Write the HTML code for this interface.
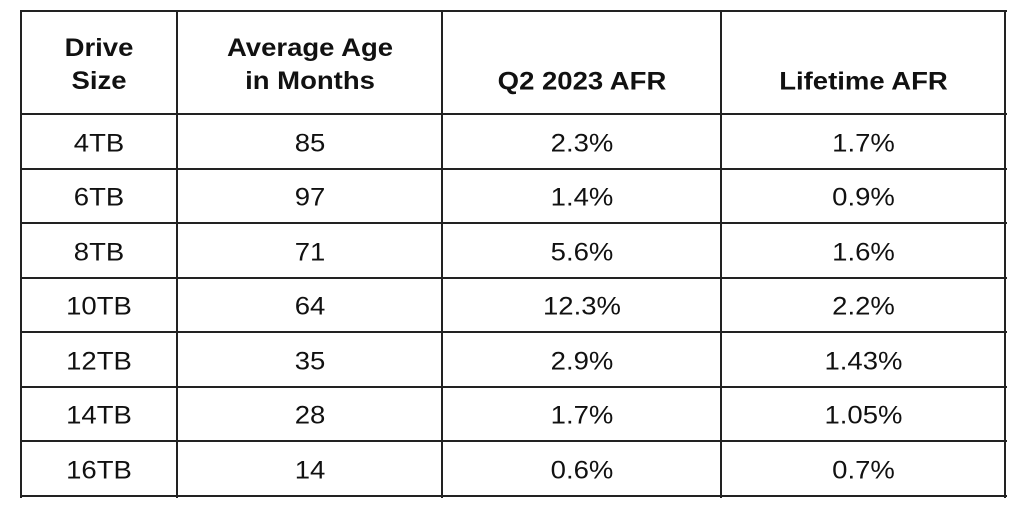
<!DOCTYPE html>
<html><head><style>
body{margin:0;background:#fff;width:1024px;height:510px;overflow:hidden;font-family:"Liberation Sans",Arial,sans-serif;color:#111;position:relative}
.h{position:absolute;background:#222;height:2px}
.v{position:absolute;background:#222;width:2px;top:10px;height:488px}
.t{position:absolute;text-align:center;font-size:25px;line-height:33px;transform:translateY(-50%) translateY(2px) scaleX(1.1)}
.b{font-weight:bold}
</style></head><body>
<div class="h" style="left:20px;width:987px;top:10px"></div>
<div class="h" style="left:20px;width:987px;top:113px"></div>
<div class="h" style="left:20px;width:987px;top:168px"></div>
<div class="h" style="left:20px;width:987px;top:222px"></div>
<div class="h" style="left:20px;width:987px;top:277px"></div>
<div class="h" style="left:20px;width:987px;top:331px"></div>
<div class="h" style="left:20px;width:987px;top:386px"></div>
<div class="h" style="left:20px;width:987px;top:440px"></div>
<div class="h" style="left:20px;width:987px;top:495px"></div>
<div class="v" style="left:20px"></div>
<div class="v" style="left:176px"></div>
<div class="v" style="left:441px"></div>
<div class="v" style="left:720px"></div>
<div class="v" style="left:1004px"></div>

<div class="t b" style="left:20px;width:158px;top:63px">Drive<br>Size</div>
<div class="t b" style="left:177px;width:266px;top:63px">Average Age<br>in Months</div>
<div class="t b" style="left:442px;width:280px;top:80px">Q2 2023 AFR</div>
<div class="t b" style="left:721px;width:285px;top:80px">Lifetime AFR</div>

<div class="t" style="left:20px;width:158px;top:142px">4TB</div><div class="t" style="left:177px;width:266px;top:142px">85</div><div class="t" style="left:442px;width:280px;top:142px">2.3%</div><div class="t" style="left:721px;width:285px;top:142px">1.7%</div>
<div class="t" style="left:20px;width:158px;top:196px">6TB</div><div class="t" style="left:177px;width:266px;top:196px">97</div><div class="t" style="left:442px;width:280px;top:196px">1.4%</div><div class="t" style="left:721px;width:285px;top:196px">0.9%</div>
<div class="t" style="left:20px;width:158px;top:251px">8TB</div><div class="t" style="left:177px;width:266px;top:251px">71</div><div class="t" style="left:442px;width:280px;top:251px">5.6%</div><div class="t" style="left:721px;width:285px;top:251px">1.6%</div>
<div class="t" style="left:20px;width:158px;top:305px">10TB</div><div class="t" style="left:177px;width:266px;top:305px">64</div><div class="t" style="left:442px;width:280px;top:305px">12.3%</div><div class="t" style="left:721px;width:285px;top:305px">2.2%</div>
<div class="t" style="left:20px;width:158px;top:360px">12TB</div><div class="t" style="left:177px;width:266px;top:360px">35</div><div class="t" style="left:442px;width:280px;top:360px">2.9%</div><div class="t" style="left:721px;width:285px;top:360px">1.43%</div>
<div class="t" style="left:20px;width:158px;top:414px">14TB</div><div class="t" style="left:177px;width:266px;top:414px">28</div><div class="t" style="left:442px;width:280px;top:414px">1.7%</div><div class="t" style="left:721px;width:285px;top:414px">1.05%</div>
<div class="t" style="left:20px;width:158px;top:469px">16TB</div><div class="t" style="left:177px;width:266px;top:469px">14</div><div class="t" style="left:442px;width:280px;top:469px">0.6%</div><div class="t" style="left:721px;width:285px;top:469px">0.7%</div>
</body></html>
